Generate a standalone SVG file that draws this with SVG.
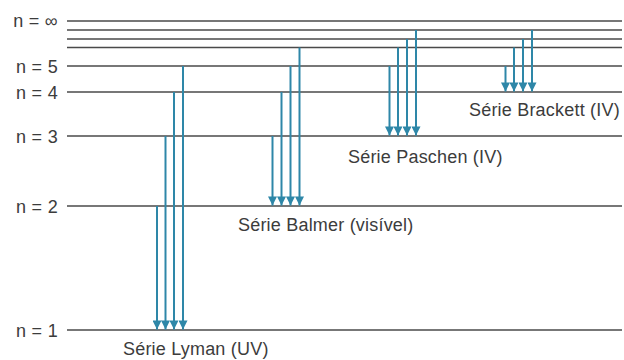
<svg xmlns="http://www.w3.org/2000/svg" width="624" height="360" viewBox="0 0 624 360">
<defs>
<style>
.lvl{stroke:#4a4a4a;stroke-width:1.5;fill:none}
.nl{font-family:"Liberation Sans",Arial,sans-serif;font-size:18px;fill:#3c3c3c;text-anchor:end;letter-spacing:0.3px}
.sl{font-family:"Liberation Sans",Arial,sans-serif;font-size:18px;fill:#3c3c3c;letter-spacing:0.2px}
.arr{stroke:#2e87a8;stroke-width:2;fill:none;marker-end:url(#ah)}
</style>
<marker id="ah" viewBox="0 0 10 10" refX="10" refY="5" markerWidth="10" markerHeight="9" markerUnits="userSpaceOnUse" orient="auto">
<path d="M0,0 L10,5 L0,10 z" fill="#2e87a8"/>
</marker>
</defs>
<rect width="624" height="360" fill="#ffffff"/>
<g id="levels">
<g id="n-inf"><line class="lvl" x1="67" y1="21" x2="622" y2="21"/><text class="nl" x="58" y="27">n = ∞</text></g>
<g id="n-8"><line class="lvl" x1="67" y1="30" x2="622" y2="30"/></g>
<g id="n-7"><line class="lvl" x1="67" y1="39" x2="622" y2="39"/></g>
<g id="n-6"><line class="lvl" x1="67" y1="47.5" x2="622" y2="47.5"/></g>
<g id="n-5"><line class="lvl" x1="67" y1="66" x2="622" y2="66"/><text class="nl" x="58" y="73">n = 5</text></g>
<g id="n-4"><line class="lvl" x1="67" y1="92" x2="622" y2="92"/><text class="nl" x="58" y="99">n = 4</text></g>
<g id="n-3"><line class="lvl" x1="67" y1="136" x2="622" y2="136"/><text class="nl" x="58" y="143">n = 3</text></g>
<g id="n-2"><line class="lvl" x1="67" y1="206" x2="622" y2="206"/><text class="nl" x="58" y="213">n = 2</text></g>
<g id="n-1"><line class="lvl" x1="67" y1="330" x2="622" y2="330"/><text class="nl" x="58" y="337">n = 1</text></g>
</g>
<g id="connectors">
<line class="arr" x1="157" y1="206" x2="157" y2="329.5"/>
<line class="arr" x1="165.5" y1="136" x2="165.5" y2="329.5"/>
<line class="arr" x1="174" y1="92" x2="174" y2="329.5"/>
<line class="arr" x1="183" y1="66" x2="183" y2="329.5"/>
<line class="arr" x1="272.5" y1="136" x2="272.5" y2="205.5"/>
<line class="arr" x1="281.5" y1="92" x2="281.5" y2="205.5"/>
<line class="arr" x1="290.5" y1="66" x2="290.5" y2="205.5"/>
<line class="arr" x1="299.5" y1="47.5" x2="299.5" y2="205.5"/>
<line class="arr" x1="389.5" y1="66" x2="389.5" y2="135.5"/>
<line class="arr" x1="398" y1="47.5" x2="398" y2="135.5"/>
<line class="arr" x1="407" y1="39" x2="407" y2="135.5"/>
<line class="arr" x1="416" y1="30" x2="416" y2="135.5"/>
<line class="arr" x1="505.5" y1="66" x2="505.5" y2="91.5"/>
<line class="arr" x1="514" y1="47.5" x2="514" y2="91.5"/>
<line class="arr" x1="523" y1="39" x2="523" y2="91.5"/>
<line class="arr" x1="532" y1="30" x2="532" y2="91.5"/>
</g>
<g id="series-labels">
<text id="lyman" class="sl" x="123" y="355">Série Lyman (UV)</text>
<text id="balmer" class="sl" x="238" y="231">Série Balmer (visível)</text>
<text id="paschen" class="sl" x="348" y="163">Série Paschen (IV)</text>
<text id="brackett" class="sl" x="469" y="116">Série Brackett (IV)</text>
</g>
</svg>
